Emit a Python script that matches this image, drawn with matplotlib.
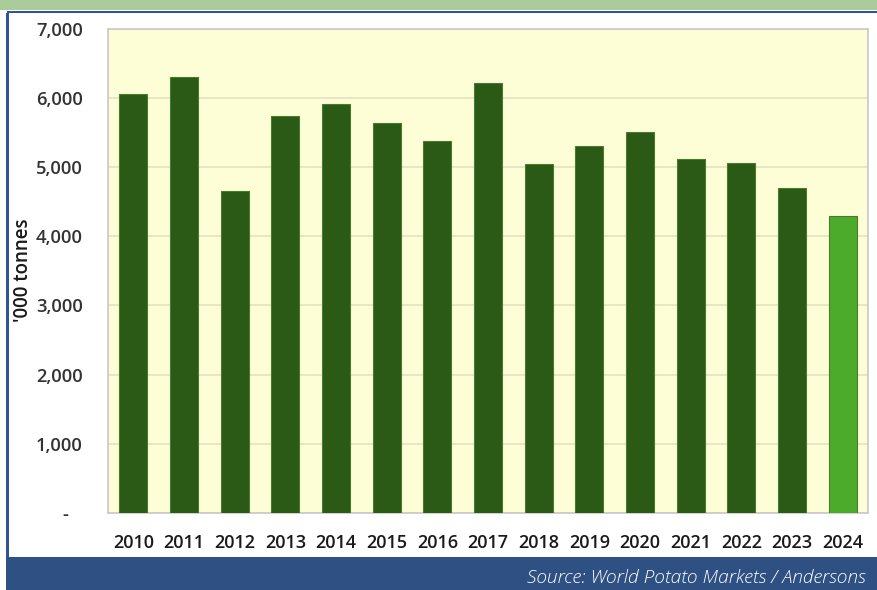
import matplotlib.pyplot as plt
from matplotlib.patches import Rectangle
from matplotlib.ticker import FuncFormatter

years = ["2010", "2011", "2012", "2013", "2014", "2015", "2016", "2017",
         "2018", "2019", "2020", "2021", "2022", "2023", "2024"]
tonnes = [6050, 6300, 4650, 5740, 5910, 5640, 5380, 6210,
          5040, 5300, 5500, 5120, 5050, 4700, 4290]
y_ticks = [0, 1000, 2000, 3000, 4000, 5000, 6000, 7000]

dark_green = "#2a5a16"
light_green = "#4dab2c"
colors = [dark_green] * (len(years) - 1) + [light_green]

plt.rcParams["font.family"] = ["Open Sans", "DejaVu Sans"]

fig = plt.figure(figsize=(8.78, 5.9), dpi=100)
fig.patch.set_facecolor("white")

# frame decorations (top green band, blue lines, bottom source band)
fig.add_artist(Rectangle((0, 1 - 10 / 590), 1, 10 / 590, transform=fig.transFigure,
                         facecolor="#a9cc9a", edgecolor="none"))
fig.add_artist(Rectangle((7 / 878, 1 - 13 / 590), 1, 2.5 / 590, transform=fig.transFigure,
                         facecolor="#2f5597", edgecolor="none"))
fig.add_artist(Rectangle((6 / 878, 33 / 590), 2.5 / 878, 1 - 46 / 590, transform=fig.transFigure,
                         facecolor="#2f5597", edgecolor="none"))
fig.add_artist(Rectangle((6 / 878, 0), 1, 33 / 590, transform=fig.transFigure,
                         facecolor="#2f5083", edgecolor="none"))
fig.text(866 / 878, 12 / 590, "Source: World Potato Markets / Andersons", color="white",
         fontsize=13.8, style="italic", fontweight="light", ha="right", va="center")

ax = fig.add_axes([108 / 878, 1 - 513 / 590, 760 / 878, 484.5 / 590])
ax.set_facecolor("#fefed6")

ax.bar(years, tonnes, width=0.55, color=colors, edgecolor="#4a7a30", linewidth=0.8, zorder=3)

ax.set_ylim(0, 7000)
ax.set_xlim(-0.5, len(years) - 0.5)
ax.set_yticks(y_ticks)
ax.yaxis.set_major_formatter(FuncFormatter(lambda v, p: "-   " if v == 0 else f"{int(v):,}"))
ax.grid(axis="y", color="#e6e2c0", linewidth=1.2, zorder=0)
ax.tick_params(length=0)
ax.tick_params(axis="y", pad=18, labelsize=13.2, labelcolor="#333333")
ax.tick_params(axis="x", pad=15, labelsize=13, labelcolor="#1a1a1a")
for lab in ax.get_yticklabels():
    lab.set_fontweight("semibold")
for lab in ax.get_xticklabels():
    lab.set_fontweight("semibold")
for s in ax.spines.values():
    s.set_color("#c8c8c8")
    s.set_linewidth(1.2)

ax.set_ylabel("'000 tonnes", fontsize=13.5, color="#1a1a1a", fontweight="semibold",
              va="center")
ax.yaxis.set_label_coords((23 - 108) / 760, 0.5)

fig.savefig("out.png", dpi=100)
